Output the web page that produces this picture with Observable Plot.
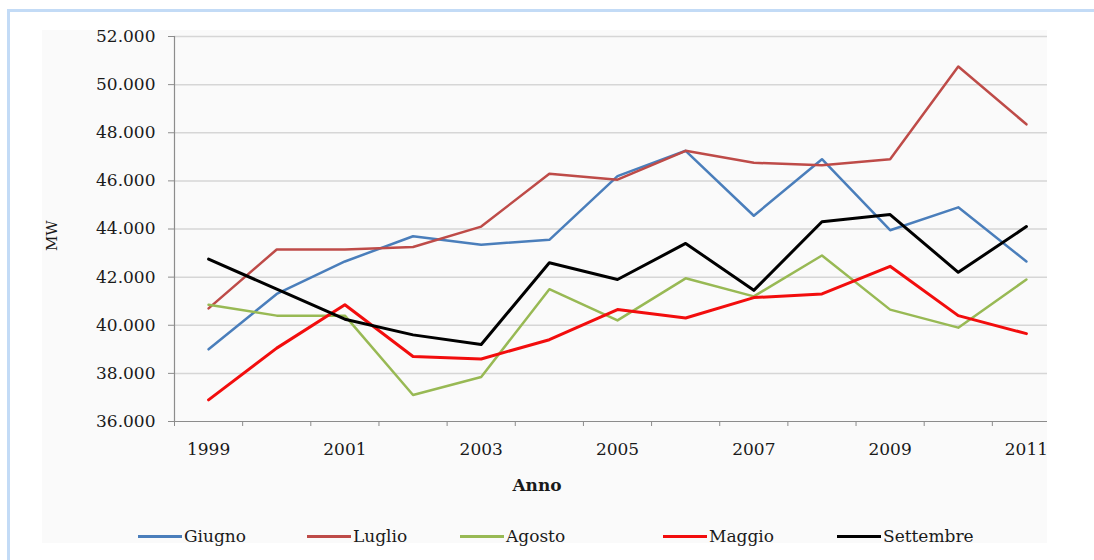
<!DOCTYPE html>
<html>
<head>
<meta charset="utf-8">
<script src="https://cdn.jsdelivr.net/npm/d3@7"></script>
<script src="https://cdn.jsdelivr.net/npm/@observablehq/plot@0.6"></script>
<style>
  body { margin: 0; background: #fff; width: 1094px; height: 560px; overflow: hidden; position: relative; font-family: "DejaVu Serif", serif; color: #1a1a1a; }
  #frame { position: absolute; left: 7px; top: 9px; width: 1090px; height: 560px; border-top: 3px solid #c3dbf6; border-left: 3px solid #c3dbf6; }
  #chart { position: absolute; left: 42px; top: 30px; width: 1005px; height: 513px; background: #fafafa; }
  #plotwrap { position: absolute; left: 0; top: -14px; width: 1005px; height: 454px; overflow: hidden; }
  #plotwrap svg { max-width: none; }
  #xtitle { position: absolute; left: 445px; width: 100px; top: 445px; text-align: center; font-weight: bold; font-size: 17px; }
  .item { position: absolute; top: 496px; display: flex; align-items: center; font-size: 17px; white-space: nowrap; }
  .swatch { width: 44px; height: 3px; margin-right: 2px; }
</style>
</head>
<body>
<div id="frame"></div>
<div id="chart">
  <div id="plotwrap"></div>
  <div id="xtitle">Anno</div>
  <div id="legend"></div>
</div>
<script>
// Peak power demand (MW) by month, 1999–2011
const years = [1999, 2000, 2001, 2002, 2003, 2004, 2005, 2006, 2007, 2008, 2009, 2010, 2011];
const giugno    = [39000, 41300, 42650, 43700, 43350, 43550, 46200, 47250, 44550, 46900, 43950, 44900, 42650];
const luglio    = [40700, 43150, 43150, 43250, 44100, 46300, 46050, 47250, 46750, 46650, 46900, 50750, 48350];
const agosto    = [40850, 40400, 40400, 37100, 37850, 41500, 40200, 41950, 41200, 42900, 40650, 39900, 41900];
const maggio    = [36900, 39050, 40850, 38700, 38600, 39400, 40650, 40300, 41150, 41300, 42450, 40400, 39650];
const settembre = [42750, 41500, 40250, 39600, 39200, 42600, 41900, 43400, 41450, 44300, 44600, 42200, 44100];

const seriesNames = ["Giugno", "Luglio", "Agosto", "Maggio", "Settembre"];
const seriesValues = [giugno, luglio, agosto, maggio, settembre];
const yTicks = [36000, 38000, 40000, 42000, 44000, 46000, 48000, 50000, 52000];
const labelYears = [1999, 2001, 2003, 2005, 2007, 2009, 2011];

// Line styling per series
const colors = ["#4a7ebb", "#be4b48", "#98b954", "#f20d0d", "#000000"];
const widths = [2.5, 2.5, 2.5, 3, 3];

const rows = seriesNames.flatMap((name, i) =>
  years.map((year, j) => ({series: name, year, value: seriesValues[i][j]}))
);

// Category boundaries for the x tick marks
const boundaries = d3.range(years[0] - 0.5, years[years.length - 1] + 1, 1);
const fmt = d => d3.format(",")(d).replace(/,/g, ".");
const axisGrey = "#8c8c8c";

const chart = Plot.plot({
  width: 1018,
  height: 454,
  marginLeft: 132,
  marginRight: 0,
  marginTop: 20,
  marginBottom: 49,
  style: {background: "transparent", fontFamily: "DejaVu Serif", fontSize: "17px", color: "#1a1a1a", overflow: "visible", maxWidth: "none"},
  x: {domain: [boundaries[0], boundaries[boundaries.length - 1]], axis: null},
  y: {domain: [yTicks[0], yTicks[yTicks.length - 1]], axis: null},
  color: {domain: seriesNames, range: colors},
  marks: [
    Plot.ruleY(yTicks.slice(1), {stroke: "#d6d6d6", strokeWidth: 1.5}),
    Plot.axisY({ticks: yTicks, tickSize: 6, tickPadding: 13, tickFormat: fmt, stroke: axisGrey, label: null}),
    Plot.axisX({ticks: boundaries, tickSize: 5, tickFormat: () => "", stroke: axisGrey, label: null}),
    Plot.axisX({ticks: labelYears, tickSize: 0, tickPadding: 21, tickFormat: d => String(d), label: null}),
    Plot.ruleX([boundaries[0]], {stroke: axisGrey, strokeWidth: 1.2}),
    Plot.ruleY([yTicks[0]], {stroke: axisGrey, strokeWidth: 1.2}),
    ...seriesNames.map((name, i) =>
      Plot.line(rows.filter(r => r.series === name), {
        x: "year", y: "value", stroke: colors[i], strokeWidth: widths[i], strokeLinejoin: "round"
      })
    ),
    Plot.text(["MW"], {frameAnchor: "left", dx: -122, dy: 22, rotate: -90, fontSize: 15})
  ]
});
document.getElementById("plotwrap").appendChild(chart);

// Legend
const legendX = [96, 265, 418, 621, 795];
const legend = document.getElementById("legend");
seriesNames.forEach((name, i) => {
  const item = document.createElement("div");
  item.className = "item";
  item.style.left = legendX[i] + "px";
  const sw = document.createElement("span");
  sw.className = "swatch";
  sw.style.background = colors[i];
  const label = document.createElement("span");
  label.textContent = name;
  item.append(sw, label);
  legend.appendChild(item);
});
</script>
</body>
</html>
